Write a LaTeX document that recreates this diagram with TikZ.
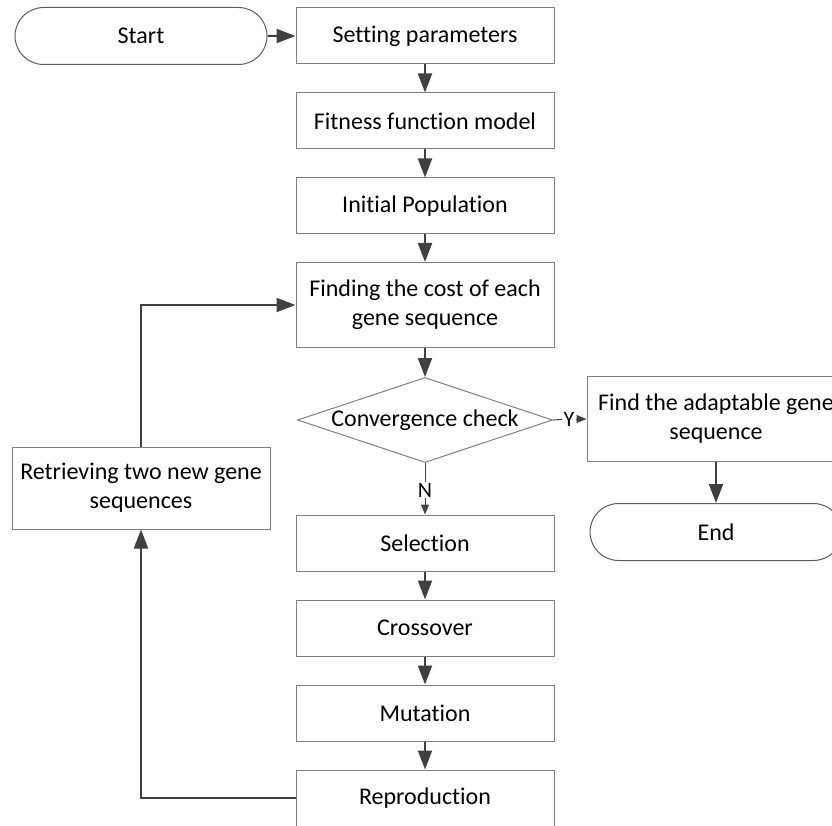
\documentclass[tikz,border=0pt]{standalone}
\usepackage{fontspec}
\setmainfont{Carlito}[Ligatures=NoCommon]
\usetikzlibrary{arrows.meta, shapes.geometric, shapes.misc}
\definecolor{edge}{HTML}{808080}
\definecolor{flow}{HTML}{404040}

\begin{document}
\begin{tikzpicture}[x=1pt, y=-1pt, font=\fontsize{24}{29}\selectfont,
  box/.style={draw=edge, line width=1pt, minimum width=258pt, minimum height=56pt, align=center, inner sep=2pt},
  term/.style={rounded rectangle, draw=flow!85, line width=1pt, minimum width=256pt, minimum height=57pt, inner sep=2pt},
  check/.style={diamond, draw=edge, line width=1pt, minimum width=255pt, minimum height=85pt, inner sep=0pt},
  tag/.style={inner sep=1pt, font=\fontsize{22}{26}\selectfont},
  link/.style={draw=flow, line width=2pt, -{Triangle[length=19pt, width=14pt]}},
  tick/.style={draw=flow, line width=1pt, -{Triangle[length=10pt, width=8pt]}}]
  \useasboundingbox (0,0) rectangle (832,826);

  % main column
  \node[term] (start) at (141,36) {Start};
  \node[box] (par) at (425,36) {Setting parameters};
  \node[box] (fit) at (425,121) {Fitness function model};
  \node[box] (init) at (425,206) {Initial Population};
  \node[box, minimum height=85pt] (cost) at (425,305) {Finding the cost of each\\gene sequence};
  \node[check, label=center:{Convergence check}] (chk) at (425,420) {};
  \node[tag] (nlab) at (425,490) {N};
  \node[box] (sel) at (425,543) {Selection};
  \node[box] (cross) at (425,628) {Crossover};
  \node[box] (mut) at (425,713) {Mutation};
  \node[box] (rep) at (425,798) {Reproduction};

  % right branch
  \node[tag] (ylab) at (569,419) {Y};
  \node[box, minimum height=85pt] (find) at (716,419) {Find the adaptable gene\\sequence};
  \node[term] (end) at (716,532) {End};

  % loop back
  \node[box, minimum height=82pt] (ret) at (141,488) {Retrieving two new gene\\sequences};

  \draw[link] (start) -- (par);
  \draw[link] (par) -- (fit);
  \draw[link] (fit) -- (init);
  \draw[link] (init) -- (cost);
  \draw[link] (cost) -- (chk);
  \draw[draw=flow, line width=1pt] (chk.south) -- (nlab);
  \draw[tick] (nlab) -- (sel);
  \draw[link] (sel) -- (cross);
  \draw[link] (cross) -- (mut);
  \draw[link] (mut) -- (rep);
  \draw[draw=flow, line width=1pt] (chk.east) -- (ylab);
  \draw[tick] (ylab) -- (find);
  \draw[link] (find) -- (end);
  \draw[link] (rep.west) -| (ret.south);
  \draw[link] (ret.north) |- (cost.west);
\end{tikzpicture}
\end{document}
